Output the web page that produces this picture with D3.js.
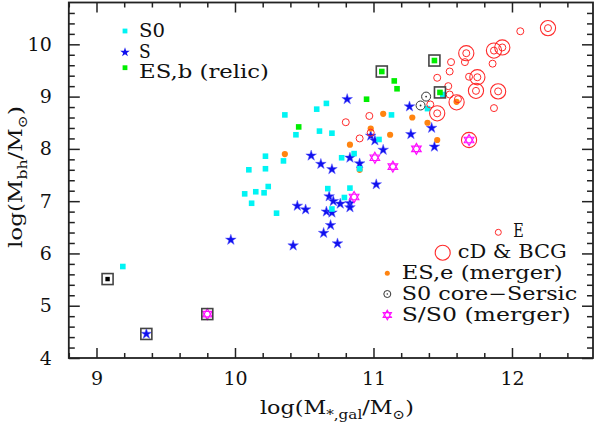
<!DOCTYPE html>
<html><head><meta charset="utf-8">
<script src="https://cdn.jsdelivr.net/npm/d3@7"></script>
<style>
html,body{margin:0;padding:0;background:#fff;}
svg{display:block;}
</style>
</head><body>
<svg id="c" width="598" height="428"></svg>
<script>
// ---------- data ----------
const xTickValues = [9, 10, 11, 12];
const yTickValues = [4, 5, 6, 7, 8, 9, 10];

const s0Points = [
  [10.36,8.65],[10.44,8.27],[10.22,7.86],[10.35,7.77],[10.10,7.60],[10.22,7.62],
  [10.24,7.28],[10.15,7.18],[10.21,7.16],[10.07,7.14],[10.12,6.96],[10.30,6.77],
  [10.59,8.76],[10.66,8.87],[10.61,8.34],[10.70,8.30],[11.13,8.65],[11.04,8.18],
  [10.77,7.83],[10.86,7.91],[10.90,7.62],[10.67,7.24],[10.83,7.25],[10.79,7.07],
  [10.70,6.85],[11.39,8.77],[11.50,9.04],[9.19,5.75]
];
const sPoints = [
  [9.97,6.26],[10.42,6.15],[10.45,6.91],[10.51,6.84],[10.81,8.95],[10.98,8.25],
  [11.01,8.16],[11.07,7.98],[10.55,7.87],[10.62,7.71],[10.70,7.61],[10.83,7.83],
  [10.90,7.72],[11.02,7.32],[10.68,7.09],[10.71,7.00],[10.76,6.95],[10.83,6.96],
  [10.83,6.88],[10.66,6.80],[10.70,6.78],[10.69,6.54],[10.64,6.39],[10.74,6.19],
  [11.26,8.81],[11.27,8.28],[11.42,8.40],[11.44,8.04],[9.36,4.46]
];
const esbPoints = [
  [10.46,8.42],[10.95,8.95],[11.15,9.30],[11.17,9.15],[11.06,9.48],[11.44,9.69],[11.48,9.08]
];
const esePoints = [
  [10.36,7.90],[11.07,8.67],[10.98,8.39],[10.83,8.08],[11.12,8.27],[10.90,7.60],
  [11.28,8.60],[11.39,8.50],[11.46,8.17],[11.60,8.90]
];
const ePoints = [
  [10.80,8.51],[10.97,8.63],[10.90,8.20],[10.98,8.31],[11.41,8.85],[11.46,9.36],
  [11.54,9.20],[11.55,9.48],[11.56,9.66],[11.66,9.66],[11.69,9.38],[11.55,9.04],
  [11.61,8.95],[11.86,9.63],[11.87,8.78],[12.06,10.25],
  [11.67,9.83],[11.87,9.88],[11.93,9.94],[11.75,9.37],[11.74,9.11],[11.90,9.10],
  [12.26,10.31],[11.46,8.68]
];
const cdPoints = [
  [11.67,9.83],[11.87,9.88],[11.93,9.94],[11.75,9.37],[11.74,9.11],[11.90,9.10],
  [12.26,10.31],[11.60,8.89],[11.46,8.68],[11.69,8.17]
];
const coreSersicPoints = [[11.38,9.00],[11.34,8.83]];
const mergerSPoints = [[11.01,7.83],[11.14,7.66],[10.86,7.08],[11.31,8.00],[11.69,8.17],[9.80,4.84]];
const blackPoints = [[9.08,5.51]];
const boxedPoints = [[9.08,5.51],[9.36,4.46],[9.80,4.84],[11.06,9.48],[11.44,9.69],[11.48,9.08]];

// ---------- setup ----------
const FONT = '"DejaVu Serif", "Liberation Serif", serif';
const svg = d3.select('#c');
const x = d3.scaleLinear().domain([8.8, 12.585]).range([68.8, 593]);
const y = d3.scaleLinear().domain([4, 10.8]).range([358, 2.5]);
const X0 = x.range()[0], X1 = x.range()[1], Y0 = y.range()[0], Y1 = y.range()[1];

const minorX = d3.range(44, 63).map(d => +(d * 0.2).toFixed(1)).filter(v => Math.abs(v - Math.round(v)) > 1e-6 && v < 12.585);
const minorY = d3.range(20, 54).map(d => +(d * 0.2).toFixed(1)).filter(v => Math.abs(v - Math.round(v)) > 1e-6 && v <= 10.8);

function styleAxis(g) {
  g.select('.domain').remove();
  g.selectAll('line').attr('stroke', '#222').attr('stroke-width', 1.5);
  g.selectAll('text').attr('font-family', FONT).attr('font-size', 19).attr('fill', '#111');
  g.attr('font-family', null).attr('font-size', null);
}

// bottom
svg.append('g').attr('transform', `translate(0,${Y0})`)
  .call(d3.axisBottom(x).tickValues(xTickValues).tickSize(-10).tickSizeOuter(0).tickPadding(14).tickFormat(d3.format('d')))
  .call(styleAxis);
svg.append('g').attr('transform', `translate(0,${Y0})`)
  .call(d3.axisBottom(x).tickValues(minorX).tickSize(-5).tickSizeOuter(0).tickFormat(''))
  .call(styleAxis);
// top
svg.append('g').attr('transform', `translate(0,${Y1})`)
  .call(d3.axisTop(x).tickValues(xTickValues).tickSize(-10).tickSizeOuter(0).tickFormat(''))
  .call(styleAxis);
svg.append('g').attr('transform', `translate(0,${Y1})`)
  .call(d3.axisTop(x).tickValues(minorX).tickSize(-5).tickSizeOuter(0).tickFormat(''))
  .call(styleAxis);
// left
svg.append('g').attr('transform', `translate(${X0},0)`)
  .call(d3.axisLeft(y).tickValues(yTickValues).tickSize(-11).tickSizeOuter(0).tickPadding(17).tickFormat(d3.format('d')))
  .call(styleAxis);
svg.append('g').attr('transform', `translate(${X0},0)`)
  .call(d3.axisLeft(y).tickValues(minorY).tickSize(-6).tickSizeOuter(0).tickFormat(''))
  .call(styleAxis);
// right
svg.append('g').attr('transform', `translate(${X1},0)`)
  .call(d3.axisRight(y).tickValues(yTickValues).tickSize(-11).tickSizeOuter(0).tickFormat(''))
  .call(styleAxis);
svg.append('g').attr('transform', `translate(${X1},0)`)
  .call(d3.axisRight(y).tickValues(minorY).tickSize(-6).tickSizeOuter(0).tickFormat(''))
  .call(styleAxis);

// frame
svg.append('rect').attr('x', X0).attr('y', Y1).attr('width', X1 - X0).attr('height', Y0 - Y1)
  .attr('fill', 'none').attr('stroke', '#222').attr('stroke-width', 1.8);

// ---------- marks ----------
const COL = {cyan:'#00f4f4', blue:'#1010ee', green:'#00ee00', orange:'#ff8410', red:'#ff2a2a', magenta:'#ff10ff'};
const starPath = r => d3.symbol(d3.symbolStar, r * r / 0.8908130915292852)();
function hexPath(r) {
  const pts = a => [0,1,2].map(i => { const t = (a + i * 120) * Math.PI / 180; return [r * Math.cos(t), r * Math.sin(t)]; });
  const tri = p => 'M' + p.map(q => q[0].toFixed(2) + ',' + q[1].toFixed(2)).join('L') + 'Z';
  return tri(pts(-90)) + tri(pts(90));
}
const plot = svg.append('g');

plot.selectAll('.s').data(sPoints).join('path')
  .attr('transform', d => `translate(${x(d[0])},${y(d[1])})`).attr('d', starPath(5.6))
  .attr('fill', COL.blue).attr('stroke', '#5a5aff').attr('stroke-width', 0.5);
plot.selectAll('.ese').data(esePoints).join('circle')
  .attr('cx', d => x(d[0])).attr('cy', d => y(d[1])).attr('r', 3.1).attr('fill', COL.orange);
plot.selectAll('.s0').data(s0Points).join('rect')
  .attr('x', d => x(d[0]) - 2.8).attr('y', d => y(d[1]) - 2.8).attr('width', 5.6).attr('height', 5.6)
  .attr('fill', COL.cyan);
plot.selectAll('.esb').data(esbPoints).join('rect')
  .attr('x', d => x(d[0]) - 2.8).attr('y', d => y(d[1]) - 2.8).attr('width', 5.6).attr('height', 5.6)
  .attr('fill', COL.green);
plot.selectAll('.e').data(ePoints).join('circle')
  .attr('cx', d => x(d[0])).attr('cy', d => y(d[1])).attr('r', 3.5)
  .attr('fill', 'none').attr('stroke', COL.red).attr('stroke-width', 1);
plot.selectAll('.cd').data(cdPoints).join('circle')
  .attr('cx', d => x(d[0])).attr('cy', d => y(d[1])).attr('r', 7.6)
  .attr('fill', 'none').attr('stroke', COL.red).attr('stroke-width', 1.1);
const cs = plot.selectAll('.cs').data(coreSersicPoints).join('g')
  .attr('transform', d => `translate(${x(d[0])},${y(d[1])})`);
cs.append('circle').attr('r', 4.5).attr('fill', 'none').attr('stroke', '#333').attr('stroke-width', 1);
cs.append('circle').attr('r', 0.9).attr('fill', '#333');
plot.selectAll('.ms').data(mergerSPoints).join('path')
  .attr('transform', d => `translate(${x(d[0])},${y(d[1])})`).attr('d', hexPath(5.5))
  .attr('fill', 'none').attr('stroke', COL.magenta).attr('stroke-width', 1.2);
plot.selectAll('.bk').data(blackPoints).join('rect')
  .attr('x', d => x(d[0]) - 2.2).attr('y', d => y(d[1]) - 2.2).attr('width', 4.4).attr('height', 4.4)
  .attr('fill', '#000');
plot.selectAll('.box').data(boxedPoints).join('rect')
  .attr('x', d => x(d[0]) - 5.5).attr('y', d => y(d[1]) - 5.5).attr('width', 11).attr('height', 11)
  .attr('fill', 'none').attr('stroke', '#444').attr('stroke-width', 1.6);

// ---------- legends ----------
function legText(tx, ty, str, len, size) {
  return svg.append('text').attr('x', tx).attr('y', ty).attr('font-family', FONT)
    .attr('font-size', size || 18).attr('fill', '#111')
    .attr('textLength', len).attr('lengthAdjust', 'spacingAndGlyphs').text(str);
}
// top-left
svg.append('rect').attr('x', 125 - 2.4).attr('y', 31 - 2.4).attr('width', 4.8).attr('height', 4.8).attr('fill', COL.cyan);
svg.append('path').attr('transform', 'translate(125,52.3)').attr('d', starPath(5)).attr('fill', COL.blue);
svg.append('rect').attr('x', 125 - 2.4).attr('y', 67.7 - 2.4).attr('width', 4.8).attr('height', 4.8).attr('fill', COL.green);
legText(139, 36.8, 'S0', 26);
legText(139, 57.6, 'S', 11.7);
legText(139, 78.3, 'ES,b (relic)', 130);
// bottom-right
svg.append('circle').attr('cx', 498.3).attr('cy', 232.3).attr('r', 3).attr('fill', 'none').attr('stroke', COL.red).attr('stroke-width', 1);
legText(513.3, 237.3, 'E', 10.5);
svg.append('circle').attr('cx', 442.7).attr('cy', 252.7).attr('r', 7.5).attr('fill', 'none').attr('stroke', COL.red).attr('stroke-width', 1.1);
legText(457.7, 258.3, 'cD & BCG', 109);
svg.append('circle').attr('cx', 387.3).attr('cy', 273.3).attr('r', 2.5).attr('fill', COL.orange);
legText(401.7, 279.2, 'ES,e (merger)', 161);
svg.append('circle').attr('cx', 387.3).attr('cy', 294).attr('r', 3.5).attr('fill', 'none').attr('stroke', '#333').attr('stroke-width', 1);
svg.append('circle').attr('cx', 387.3).attr('cy', 294).attr('r', 0.8).attr('fill', '#333');
legText(401.7, 300, 'S0 core\u2212Sersic', 175.6);
svg.append('path').attr('transform', 'translate(387.3,315)').attr('d', hexPath(4.8)).attr('fill', 'none').attr('stroke', COL.magenta).attr('stroke-width', 1.1);
legText(401.7, 320.7, 'S/S0 (merger)', 169);

// ---------- axis titles ----------
const xt = svg.append('text').attr('x', 260).attr('y', 414).attr('font-family', FONT).attr('font-size', 19).attr('fill', '#111')
  .attr('textLength', 154).attr('lengthAdjust', 'spacingAndGlyphs');
xt.append('tspan').text('log(M');
xt.append('tspan').attr('font-size', 13).attr('dy', 4.5).text('*,gal');
xt.append('tspan').attr('dy', -4.5).text('/M');
xt.append('tspan').attr('font-size', 13).attr('dy', 4.5).text('\u2299');
xt.append('tspan').attr('dy', -4.5).text(')');

const yt = svg.append('text').attr('transform', 'translate(22,177) rotate(-90)').attr('text-anchor', 'middle')
  .attr('font-family', FONT).attr('font-size', 19).attr('fill', '#111')
  .attr('textLength', 142).attr('lengthAdjust', 'spacingAndGlyphs');
yt.append('tspan').text('log(M');
yt.append('tspan').attr('font-size', 13).attr('dy', 4.5).text('bh');
yt.append('tspan').attr('dy', -4.5).text('/M');
yt.append('tspan').attr('font-size', 13).attr('dy', 4.5).text('\u2299');
yt.append('tspan').attr('dy', -4.5).text(')');
</script>
</body></html>
